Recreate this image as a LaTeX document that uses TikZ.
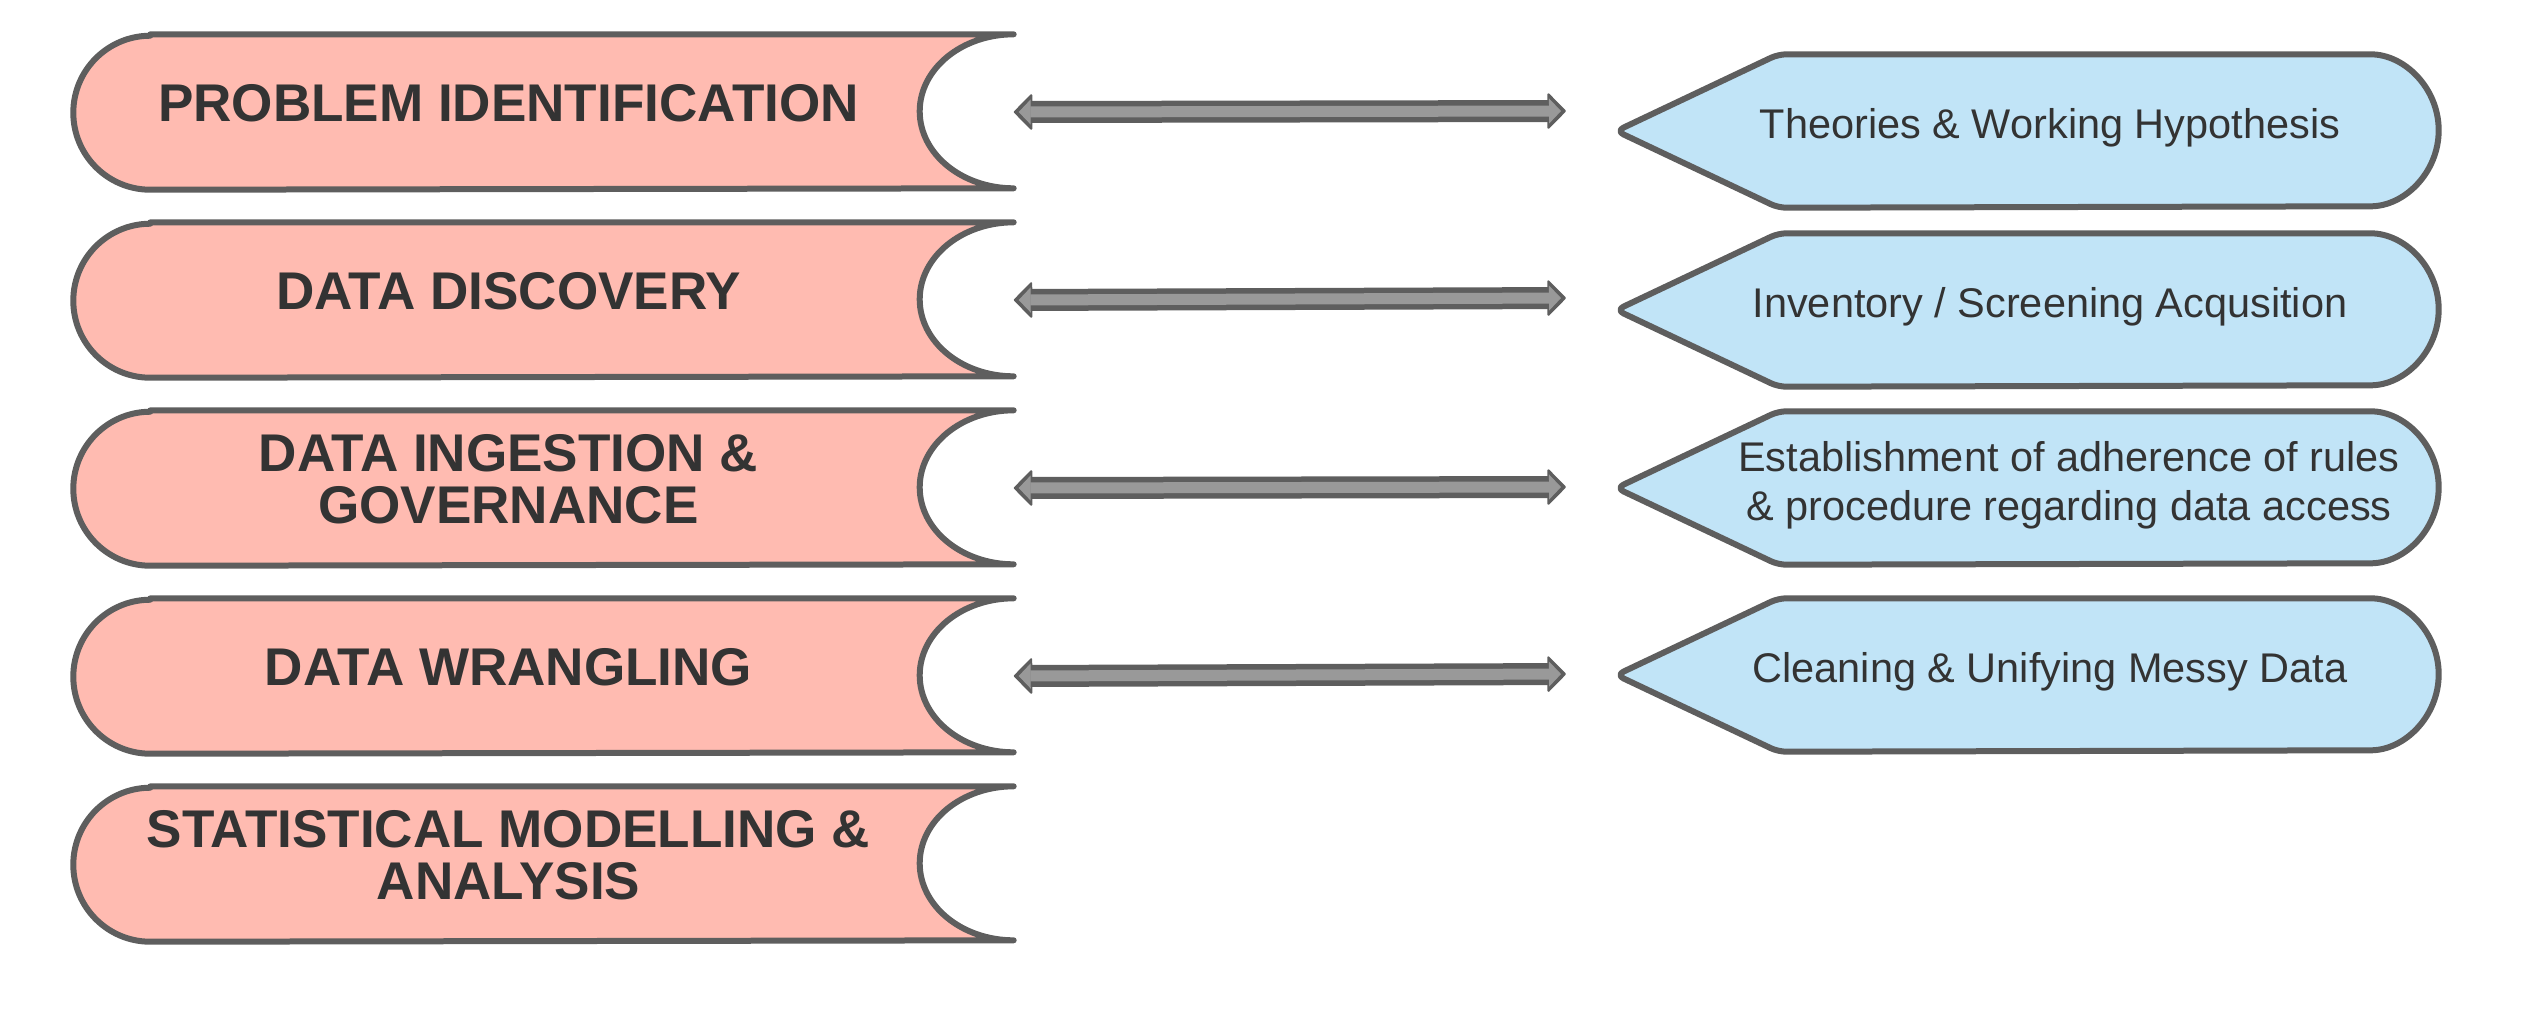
\documentclass[tikz,border=0pt]{standalone}
\usepackage{fontspec}
\setmainfont{Liberation Sans}
\usetikzlibrary{arrows.meta,backgrounds}

\definecolor{edgegray}{HTML}{5E5E5E}
\definecolor{stagepink}{HTML}{FFBBB1}
\definecolor{noteblue}{HTML}{C1E4F7}
\definecolor{linkgray}{HTML}{999999}
\definecolor{inkgray}{HTML}{333333}

\tikzset{
  stagebox/.style={rectangle, inner sep=0pt, minimum width=9.39cm, minimum height=1.54cm},
  stagetext/.style={inner sep=0pt, align=center, text=inkgray, font=\bfseries\fontsize{15.1}{14.8}\selectfont},
  notebox/.style={rectangle, inner sep=0pt, minimum width=8.21cm, minimum height=1.52cm},
  notetext/.style={inner sep=0pt, align=center, text=inkgray, font=\fontsize{11.8}{13.9}\selectfont},
  outline/.style={draw=edgegray, line width=0.06cm, line join=round},
  linkback/.style={draw=edgegray, line width=0.22cm,
    {Triangle[length=0.19cm,width=0.38cm,line width=0.02cm,round]}-{Triangle[length=0.19cm,width=0.38cm,line width=0.02cm,round]}},
  linkfront/.style={draw=linkgray, line width=0.11cm, shorten <=0.05cm, shorten >=0.05cm,
    {Triangle[length=0.12cm,width=0.25cm,line width=0.01cm]}-{Triangle[length=0.12cm,width=0.25cm,line width=0.01cm]}}
}

\begin{document}
\begin{tikzpicture}
\useasboundingbox (0,0) rectangle (25.36,-10.32);

% stages on the left
\foreach \i/\y/\txt in {1/1.12/{PROBLEM IDENTIFICATION}, 2/3.00/{DATA DISCOVERY},
    3/4.88/{DATA INGESTION \&\\GOVERNANCE}, 4/6.76/{DATA WRANGLING},
    5/8.64/{STATISTICAL MODELLING \&\\ANALYSIS}}{
  \node[stagebox] (stage\i) at (5.435,-\y) {};
  \node[stagetext] (stagetxt\i) at ([xshift=-0.35cm,yshift=0.09cm]stage\i.center) {\txt};
}

% notes on the right
\foreach \i/\y/\dx/\txt in {1/1.31/0.225/{Theories \& Working Hypothesis},
    2/3.10/0.225/{Inventory / Screening Acqusition},
    3/4.88/0.415/{Establishment of adherence of rules\\\& procedure regarding data access},
    4/6.75/0.225/{Cleaning \& Unifying Messy Data}}{
  \node[notebox] (note\i) at (20.275,-\y) {};
  \node[notetext] (notetxt\i) at ([xshift=\dx cm,yshift=0.03cm]note\i.center) {\txt};
}

% box outlines behind the texts
\begin{scope}[on background layer]
  \foreach \i in {1,...,5}
    \draw[outline, fill=stagepink] ([xshift=0.77cm]stage\i.north west) -- (stage\i.north east)
      arc[start angle=90, end angle=270, x radius=0.94cm, y radius=0.77cm]
      -- ([xshift=0.77cm]stage\i.south west)
      arc[start angle=270, end angle=90, radius=0.77cm] -- cycle;
  \foreach \i in {1,...,4}
    \draw[outline, fill=noteblue, rounded corners=0.08cm] (note\i.west)
      -- ([xshift=1.62cm]note\i.north west)
      -- ([xshift=-0.76cm]note\i.north east)
      arc[start angle=90, end angle=-90, x radius=0.76cm, y radius=0.76cm]
      -- ([xshift=1.62cm]note\i.south west) -- cycle;
\end{scope}

% double arrows
\foreach \i/\y in {1/1.11, 2/2.98, 3/4.87, 4/6.74}{
  \coordinate (end\i) at (15.66,-\y);
  \draw[linkback] (stage\i.east) -- (end\i);
  \draw[linkfront] (stage\i.east) -- (end\i);
}
\end{tikzpicture}
\end{document}
